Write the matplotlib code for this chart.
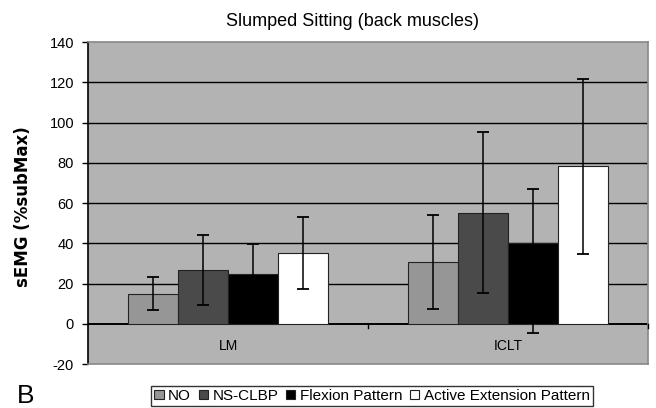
import matplotlib
matplotlib.use("Agg")
import matplotlib.pyplot as plt
import numpy as np
from matplotlib.patches import Patch

categories = ["LM", "ICLT"]
series = ["NO", "NS-CLBP", "Flexion Pattern", "Active Extension Pattern"]
values = {
    "NO": [14.8, 30.8],
    "NS-CLBP": [26.8, 55.2],
    "Flexion Pattern": [24.6, 40.2],
    "Active Extension Pattern": [35.4, 78.2],
}
err_low = {
    "NO": [8.2, 23.4],
    "NS-CLBP": [17.5, 39.9],
    "Flexion Pattern": [15.0, 44.6],
    "Active Extension Pattern": [18.0, 43.6],
}
err_high = {
    "NO": [8.2, 23.4],
    "NS-CLBP": [17.5, 39.9],
    "Flexion Pattern": [14.9, 27.0],
    "Active Extension Pattern": [17.6, 43.6],
}
colors = ["#969696", "#4a4a4a", "#000000", "#ffffff"]
yticks = [-20, 0, 20, 40, 60, 80, 100, 120, 140]

fig = plt.figure(figsize=(6.56, 4.08), dpi=100)
ax = fig.add_axes([88/656, 1-364/408, (648-88)/656, (364-42)/408])
ax.set_facecolor("#b3b3b3")

x = np.arange(len(categories))
w = 0.178
for i, s in enumerate(series):
    pos = x + (i - 1.5) * w
    ax.bar(pos, values[s], width=w, color=colors[i], edgecolor="#222222",
           linewidth=0.8, zorder=3)
    ax.errorbar(pos, values[s], yerr=[err_low[s], err_high[s]], fmt="none",
                ecolor="black", elinewidth=1.1, capsize=4.5, capthick=1.3, zorder=4)

for yv in yticks[1:-1]:
    ax.axhline(yv, color="black", linewidth=1.0 if yv else 1.4, zorder=2)

ax.set_xlim(-0.5, 1.5)
ax.set_ylim(-20, 140)
ax.set_yticks(yticks)
ax.set_yticklabels([str(v) for v in yticks], fontfamily="Liberation Sans", fontsize=10.5)
ax.tick_params(axis="y", length=4, width=1, color="black", pad=6)
ax.set_xticks([])

# category boundary ticks on the zero line
for xb in [0.5, 1.5]:
    ax.plot([xb, xb], [0, -2.2], color="black", linewidth=1, zorder=3, clip_on=False)
for xi, c in zip(x, categories):
    ax.text(xi, -11.3, c, ha="center", va="center", fontsize=10,
            fontfamily="Liberation Sans")

for side in ["top", "right", "bottom"]:
    ax.spines[side].set_color("#888888")
    ax.spines[side].set_linewidth(1.2)
ax.spines["left"].set_color("black")
ax.spines["left"].set_linewidth(1.2)

ax.set_ylabel("sEMG (%subMax)", fontfamily="DejaVu Sans", fontweight="bold",
              fontsize=12)
ax.yaxis.set_label_coords(-(88-32)/560, 0.49)
fig.text(352/656, 1-21/408, "Slumped Sitting (back muscles)", ha="center",
         va="center", fontfamily="Liberation Sans", fontsize=13)
fig.text(26/656, 1-396/408, "B", ha="center", va="center",
         fontfamily="Liberation Sans", fontsize=19)

handles = [Patch(facecolor=colors[i], edgecolor="#222222", linewidth=0.8)
           for i in range(4)]
leg = fig.legend(handles, series, loc="center", ncol=4,
                 bbox_to_anchor=(372/656, 1-396/408), frameon=True, fancybox=False,
                 handlelength=0.6, handleheight=0.6, handletextpad=0.3,
                 columnspacing=0.5, borderpad=0.2,
                 prop={"family": "Liberation Sans", "size": 11})
leg.get_frame().set_edgecolor("black")
leg.get_frame().set_linewidth(1.0)

fig.savefig("out.png", dpi=100)
